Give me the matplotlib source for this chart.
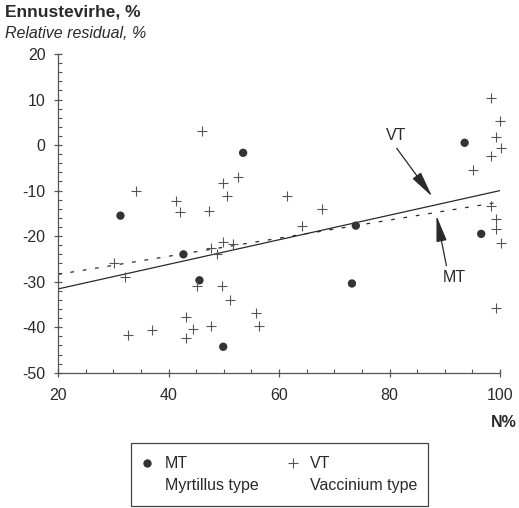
import matplotlib
matplotlib.use("Agg")
import matplotlib.pyplot as plt
from matplotlib.ticker import MultipleLocator
from matplotlib.patches import Rectangle
from matplotlib.lines import Line2D

plt.rcParams['font.family'] = ['Liberation Sans', 'DejaVu Sans']

# ---- data ----
mt_x = [31.3, 53.5, 42.7, 45.6, 49.9, 73.9, 93.6, 96.6, 73.2]
mt_y = [-15.5, -1.7, -24.0, -29.7, -44.3, -17.7, 0.5, -19.5, -30.4]

vt_x = [46.1, 34.2, 41.4, 42.0, 47.3, 49.8, 50.5, 52.5, 47.6, 49.9, 51.7, 48.8,
        30.1, 32.1, 45.2, 49.6, 51.1, 43.1, 44.5, 43.2, 47.6, 37.0, 32.7, 55.9,
        56.4, 61.4, 67.7, 64.2, 100.0, 99.2, 100.1, 98.4, 95.1, 98.3, 99.3, 99.2,
        100.1, 98.3, 99.2]
vt_y = [3.0, -10.1, -12.3, -14.7, -14.5, -8.3, -11.1, -7.1, -22.6, -21.2, -21.7, -24.0,
        -25.8, -28.9, -30.9, -31.0, -34.1, -37.7, -40.3, -42.3, -39.8, -40.7, -41.8, -36.8,
        -39.8, -11.2, -14.0, -17.7, 5.3, 1.8, -0.6, -2.4, -5.5, -13.3, -16.3, -18.4,
        -21.5, 10.4, -35.7]

line_x = [20, 100]
vt_line_y = [-31.6, -10.0]
mt_line_y = [-28.4, -12.5]

x_ticks = [20, 40, 60, 80, 100]
y_ticks = [20, 10, 0, -10, -20, -30, -40, -50]

dark = '#2a2a2a'
gray = '#555555'

fig = plt.figure(figsize=(5.19, 5.08), dpi=100)
ax = fig.add_axes([0.1118, 0.2663, 0.8516, 0.6274])

ax.plot(line_x, vt_line_y, color=dark, lw=0.9, zorder=2)
ax.plot(line_x, mt_line_y, color=dark, lw=0.9, dashes=(3, 7), zorder=2)

ax.scatter(mt_x, mt_y, s=36, color='#333333', edgecolors='none', zorder=3, clip_on=False)
ax.scatter(vt_x, vt_y, s=48, marker='+', color=gray, linewidths=0.8, zorder=3, clip_on=False)

arrow_kw = dict(arrowstyle='-|>,head_length=0.8,head_width=0.16',
                color=dark, lw=0.9, mutation_scale=20, shrinkA=0, shrinkB=0)
ax.annotate('', xy=(87.7, -11.3), xytext=(81.3, -0.7), arrowprops=arrow_kw)
ax.annotate('', xy=(88.5, -15.5), xytext=(90.3, -26.5), arrowprops=arrow_kw)
ax.text(81.2, 2.2, 'VT', fontsize=11.5, color=dark, ha='center', va='center')
ax.text(91.7, -29.0, 'MT', fontsize=11.5, color=dark, ha='center', va='center')

ax.set_xlim(20, 100)
ax.set_ylim(-50, 20)
ax.set_xticks(x_ticks)
ax.set_yticks(y_ticks)
ax.set_xticklabels([str(v) for v in x_ticks])
ax.set_yticklabels([str(v) for v in y_ticks])
ax.xaxis.set_minor_locator(MultipleLocator(5))
ax.yaxis.set_minor_locator(MultipleLocator(2))
for s in ['top', 'right']:
    ax.spines[s].set_visible(False)
for s in ['left', 'bottom']:
    ax.spines[s].set_color(gray)
    ax.spines[s].set_linewidth(0.9)
ax.tick_params(which='major', direction='inout', length=6, width=0.9, color=gray,
               labelsize=11.5, labelcolor=dark)
ax.tick_params(axis='y', which='major', pad=6)
ax.tick_params(axis='x', which='major', pad=8)
ax.tick_params(which='minor', direction='in', length=3, width=0.8, color=gray)

fig.text(0.0096, 0.967, 'Ennustevirhe, %', fontsize=12.5, fontweight='bold',
         color=dark, ha='left', va='baseline')
fig.text(0.0096, 0.9258, 'Relative residual, %', fontsize=11.5, style='italic',
         color=dark, ha='left', va='baseline')
fig.text(0.995, 0.1594, 'N%', fontsize=11.5, fontweight='bold',
         color=dark, ha='right', va='baseline')

# legend box
fig.add_artist(Rectangle((0.2524, 0.003), 0.5716, 0.1255, transform=fig.transFigure,
                         fill=False, edgecolor='#444444', lw=0.9))
fig.add_artist(Line2D([0.2827], [0.088], marker='o', markersize=6, color='#333333',
                      markeredgewidth=0, linestyle='none', transform=fig.transFigure))
fig.add_artist(Line2D([0.5645], [0.0892], marker='+', markersize=7, color=gray,
                      markeredgewidth=0.8, linestyle='none', transform=fig.transFigure))
fig.text(0.318, 0.088, 'MT', fontsize=11.5, color=dark, ha='left', va='center')
fig.text(0.318, 0.0439, 'Myrtillus type', fontsize=11.5, color=dark, ha='left', va='center')
fig.text(0.5973, 0.088, 'VT', fontsize=11.5, color=dark, ha='left', va='center')
fig.text(0.5973, 0.0439, 'Vaccinium type', fontsize=11.5, color=dark, ha='left', va='center')

fig.savefig('out.png', dpi=100)
